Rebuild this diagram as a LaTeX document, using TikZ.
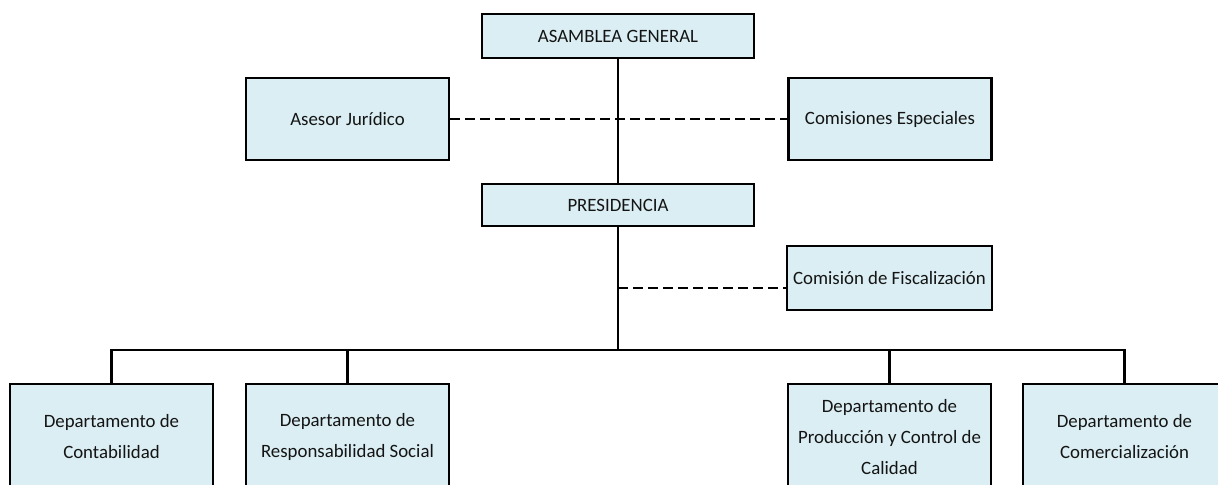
\documentclass[tikz,border=0pt]{standalone}
\usepackage{fontspec}
\setmainfont{Carlito}
\usetikzlibrary{positioning}
\definecolor{ink}{HTML}{141414}
\definecolor{cell}{HTML}{DAEEF3}

\begin{document}
\begin{tikzpicture}[
  x=0.6pt, y=-0.6pt, color=ink,
  font=\fontsize{11.3}{18.6}\selectfont,
  unit/.style={draw=black, fill=cell, line width=1.6pt, align=center,
               minimum width=121.8pt, minimum height=49.2pt, inner sep=2pt},
  top/.style={unit, minimum width=163.2pt, minimum height=26.4pt},
  dept/.style={unit, minimum height=63.6pt},
  link/.style={draw=black, line width=1.6pt},
  aux/.style={link, dash pattern=on 6pt off 3pt},
]
\useasboundingbox (0,0) rectangle (1218,484);

% management
\node[top] (asamblea) at (618,36) {ASAMBLEA GENERAL};
\node[top, minimum height=25.2pt] (presidencia) at (618,205) {PRESIDENCIA};
\node[unit] (asesor) at (347.5,119) {Asesor Jurídico};
\node[unit] (comisiones) at (890,119) {Comisiones Especiales};
\node[unit, minimum width=123pt, minimum height=38.4pt] (fiscal) at (889.5,278) {Comisión de Fiscalización};

% departments
\node[dept] (conta) at (111.5,437) {Departamento de\\Contabilidad};
\node[dept] (social) at (347.5,437) {Departamento de\\Responsabilidad Social};
\node[dept] (prod) at (889.5,437) {Departamento de\\Producción y Control de\\Calidad};
\node[dept] (comer) at (1124.5,437) {Departamento de\\Comercialización};

% trunk
\coordinate (bar) at (618,350);
\coordinate (tap) at (618,288);
\draw[link] (asamblea) -- (presidencia);
\draw[link] (presidencia) -- (bar);
\draw[aux] (asesor) -- (comisiones);
\draw[aux] (tap) -- (fiscal.west |- tap);

% branches
\draw[link] (conta.north) |- (bar) -| (comer.north);
\draw[link] (social.north) -- (social.north |- bar);
\draw[link] (prod.north) -- (prod.north |- bar);
\end{tikzpicture}
\end{document}
